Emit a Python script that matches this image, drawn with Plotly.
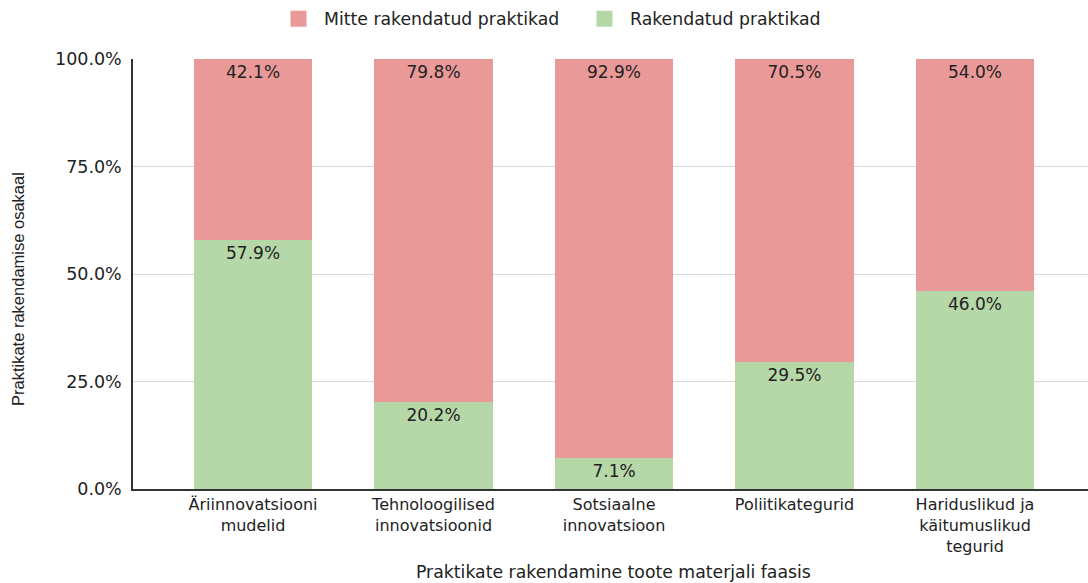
import plotly.graph_objects as go

categories = [
    "Äriinnovatsiooni<br>mudelid",
    "Tehnoloogilised<br>innovatsioonid",
    "Sotsiaalne<br>innovatsioon",
    "Poliitikategurid",
    "Hariduslikud ja<br>käitumuslikud<br>tegurid",
]
implemented = [57.9, 20.2, 7.1, 29.5, 46.0]
not_implemented = [42.1, 79.8, 92.9, 70.5, 54.0]
y_ticks = [0, 25, 50, 75, 100]
y_ticklabels = ["0.0%", "25.0%", "50.0%", "75.0%", "100.0%"]

GREEN = "#b6d7a8"
RED = "#ea9999"
FONT = "DejaVu Sans, Verdana, sans-serif"
TXT = "#222222"

x_idx = list(range(len(categories)))

fig = go.Figure()
fig.add_trace(go.Bar(
    x=x_idx, y=implemented, name="Rakendatud praktikad",
    marker=dict(color=GREEN, line=dict(width=0)),
    text=[f"{v:.1f}%" for v in implemented], textposition="inside",
    insidetextanchor="end", textangle=0,
    textfont=dict(family=FONT, size=17, color=TXT),
    width=0.655, showlegend=False, legendgroup="yes",
))
fig.add_trace(go.Bar(
    x=x_idx, y=not_implemented, name="Mitte rakendatud praktikad",
    marker=dict(color=RED, line=dict(width=0)),
    text=[f"{v:.1f}%" for v in not_implemented], textposition="inside",
    insidetextanchor="end", textangle=0,
    textfont=dict(family=FONT, size=17, color=TXT),
    width=0.655, showlegend=False, legendgroup="no",
))

# legend entries with large square swatches
for name, color, grp in [("Mitte rakendatud praktikad", RED, "no"),
                         ("Rakendatud praktikad", GREEN, "yes")]:
    fig.add_trace(go.Scatter(
        x=[None], y=[None], mode="markers", name=name, legendgroup=grp,
        marker=dict(symbol="square", size=20, color=color),
    ))

fig.update_layout(
    barmode="stack",
    width=1088, height=583,
    margin=dict(l=133, r=0, t=59, b=94),
    plot_bgcolor="white", paper_bgcolor="white",
    font=dict(family=FONT, size=16, color=TXT),
    legend=dict(
        orientation="h", xref="container", yref="container",
        x=273 / 1088, xanchor="left", y=1 - 19 / 583, yanchor="middle",
        itemsizing="trace", itemwidth=41, entrywidth=250,
        font=dict(family=FONT, size=17.3, color=TXT),
    ),
    xaxis=dict(
        tickmode="array", tickvals=x_idx, ticktext=categories,
        range=[-0.665, 4.626],
        showline=True, linecolor="#333333", linewidth=1.5,
        ticks="", showgrid=False,
        tickfont=dict(family=FONT, size=16, color=TXT),
    ),
    yaxis=dict(
        range=[0, 100], tickvals=y_ticks, ticktext=y_ticklabels,
        showline=True, linecolor="#333333", linewidth=1.5,
        gridcolor="#d9d9d9", gridwidth=1, zeroline=False,
        ticks="", ticklabelstandoff=6,
        tickfont=dict(family=FONT, size=17.5, color=TXT),
    ),
)

# axis titles placed as annotations for precise positioning
fig.add_annotation(
    text="Praktikate rakendamise osakaal",
    xref="paper", yref="paper", x=(18 - 133) / 955, y=(489 - 289) / 430,
    xanchor="center", yanchor="middle", textangle=-90, showarrow=False,
    font=dict(family="Liberation Sans, Arial, sans-serif", size=16.5, color=TXT),
)
fig.add_annotation(
    text="Praktikate rakendamine toote materjali faasis",
    xref="paper", yref="paper", x=(613 - 133) / 955, y=-(572 - 489) / 430,
    xanchor="center", yanchor="middle", showarrow=False,
    font=dict(family=FONT, size=17.3, color=TXT),
)

fig.write_html("out.html")
